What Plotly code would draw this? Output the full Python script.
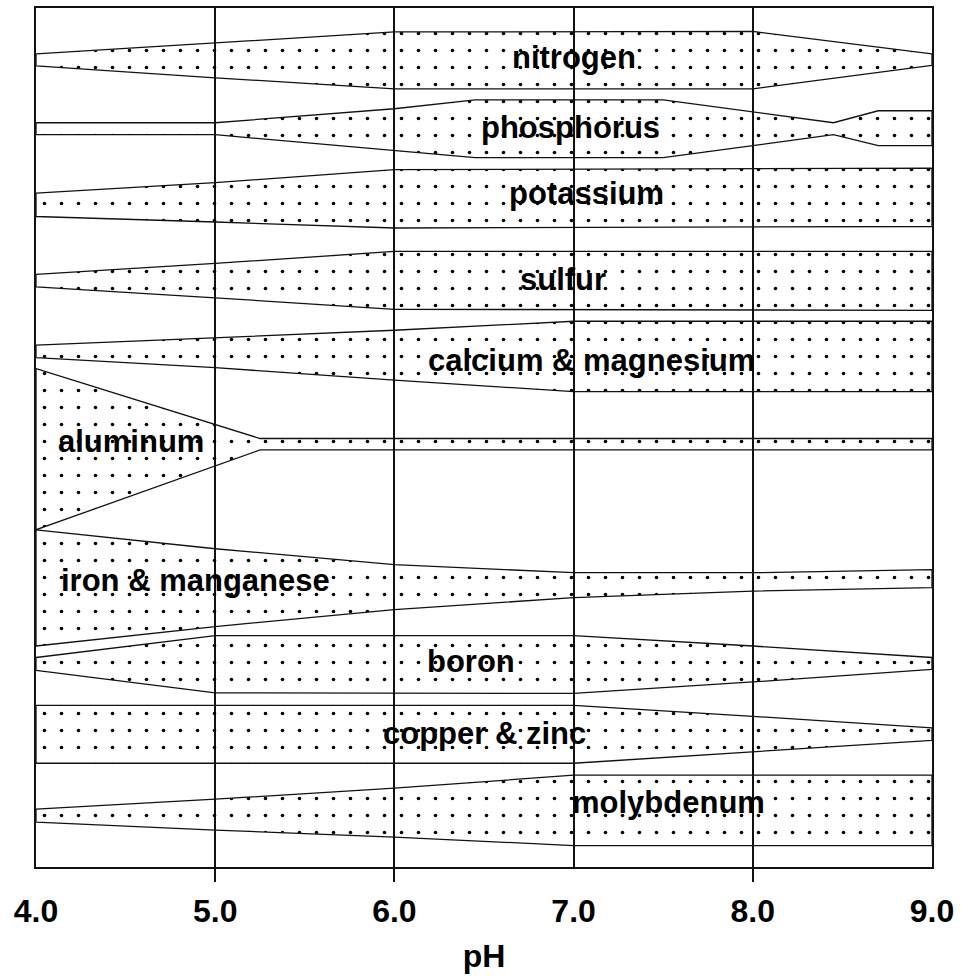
import plotly.graph_objects as go

# pH breakpoints and band edges (vertical position, 0 = top of chart, 861 = bottom)
nitrogen_ph = [4.0, 5.0, 6.0, 8.0, 9.0]
nitrogen_upper = [46, 35, 24, 23.5, 46]
nitrogen_lower = [58, 70, 81, 81, 57.5]

phosphorus_ph = [4.0, 5.0, 6.0, 6.45, 7.5, 8.0, 8.45, 8.7, 9.0]
phosphorus_upper = [115, 115, 101, 92, 92, 104, 115, 103, 103]
phosphorus_lower = [127, 127, 143, 150, 150, 138, 127, 138, 138]

potassium_ph = [4.0, 5.0, 6.0, 9.0]
potassium_upper = [185.5, 175, 162, 160.5]
potassium_lower = [209, 214.5, 220.5, 219]

sulfur_ph = [4.0, 5.0, 6.0, 9.0]
sulfur_upper = [267, 256, 244, 244]
sulfur_lower = [279.5, 290.5, 302, 303]

calcium_ph = [4.0, 5.0, 6.0, 7.0, 9.0]
calcium_upper = [338, 330.5, 323, 314, 314]
calcium_lower = [350.5, 360.5, 373, 384.5, 384.5]

aluminum_ph = [4.0, 5.25, 9.0]
aluminum_upper = [361.5, 431.5, 431.5]
aluminum_lower = [523, 443, 443]

iron_ph = [4.0, 5.0, 6.0, 7.0, 8.0, 9.0]
iron_upper = [523, 542, 558, 566, 566, 563]
iron_lower = [639.5, 620, 603, 591, 584.5, 581]

boron_ph = [4.0, 5.0, 7.0, 8.0, 9.0]
boron_upper = [651, 629, 629, 639.5, 651]
boron_lower = [664, 686.5, 687, 675.5, 663]

copper_ph = [4.0, 7.0, 8.0, 9.0]
copper_upper = [699, 699, 710, 721.5]
copper_lower = [757, 757, 745.5, 734]

molybdenum_ph = [4.0, 5.0, 6.0, 7.0, 9.0]
molybdenum_upper = [803, 793, 782, 769, 769]
molybdenum_lower = [816, 824, 831, 839.5, 839.5]

# label text and where it sits (pH, vertical position)
labels = ["nitrogen", "phosphorus", "potassium", "sulfur", "calcium & magnesium",
          "aluminum", "iron & manganese", "boron", "copper & zinc", "molybdenum"]
label_ph = [7.0, 6.98, 7.07, 6.94, 7.1, 4.53, 4.89, 6.43, 6.5, 7.53]
label_pos = [50, 120, 186, 272, 353, 435, 574, 655, 727, 796]

ph_ticks = [4.0, 5.0, 6.0, 7.0, 8.0, 9.0]

bands = [
    (nitrogen_ph, nitrogen_upper, nitrogen_lower),
    (phosphorus_ph, phosphorus_upper, phosphorus_lower),
    (potassium_ph, potassium_upper, potassium_lower),
    (sulfur_ph, sulfur_upper, sulfur_lower),
    (calcium_ph, calcium_upper, calcium_lower),
    (aluminum_ph, aluminum_upper, aluminum_lower),
    (iron_ph, iron_upper, iron_lower),
    (boron_ph, boron_upper, boron_lower),
    (copper_ph, copper_upper, copper_lower),
    (molybdenum_ph, molybdenum_upper, molybdenum_lower),
]

fig = go.Figure()

for ph, upper, lower in bands:
    # closed outline: along the top edge, then back along the bottom edge
    xs = list(ph) + list(ph[::-1]) + [ph[0]]
    ys = list(upper) + list(lower[::-1]) + [upper[0]]
    fig.add_trace(go.Scatter(
        x=xs, y=ys,
        mode="lines",
        fill="toself",
        fillcolor="rgba(0,0,0,0)",
        fillpattern=dict(shape=".", size=17, solidity=0.035, fgopacity=1,
                         fgcolor="black", bgcolor="rgba(0,0,0,0)"),
        line=dict(color="#111111", width=1.3),
        hoverinfo="skip",
        showlegend=False,
    ))

for text, x, y in zip(labels, label_ph, label_pos):
    fig.add_annotation(
        x=x, y=y, xref="x", yref="y", text=text, showarrow=False,
        font=dict(family="Liberation Sans, Arial", size=31, color="black", weight="bold"),
    )

fig.update_layout(
    width=962, height=976,
    margin=dict(l=36, r=30, t=6, b=109),
    paper_bgcolor="white",
    plot_bgcolor="white",
    showlegend=False,
    xaxis=dict(
        range=[4.0, 9.0],
        tickvals=ph_ticks,
        ticktext=[f"{v:.1f}" for v in ph_ticks],
        ticks="",
        ticklabelstandoff=15,
        tickfont=dict(family="Liberation Sans, Arial", size=32, color="black", weight="bold"),
        showgrid=True, gridcolor="#111111", gridwidth=1.5,
        zeroline=False,
        showline=True, linecolor="#111111", linewidth=1.5, mirror=True,
        minor=dict(tickvals=[5.0, 6.0, 8.0], ticks="outside", ticklen=13,
                   tickcolor="#111111", tickwidth=1.5, showgrid=False),
        title=dict(text="pH", standoff=16,
                   font=dict(family="Liberation Sans, Arial", size=32, color="black", weight="bold")),
    ),
    yaxis=dict(
        range=[861, 0],
        showticklabels=False, ticks="",
        showgrid=False, zeroline=False,
        showline=True, linecolor="#111111", linewidth=1.5, mirror=True,
    ),
)

# drop the browser's default page margin so the figure sits at the window corner
fig.write_html("out.html", config={"displayModeBar": False},
               post_script="document.body.style.margin = '0';")
